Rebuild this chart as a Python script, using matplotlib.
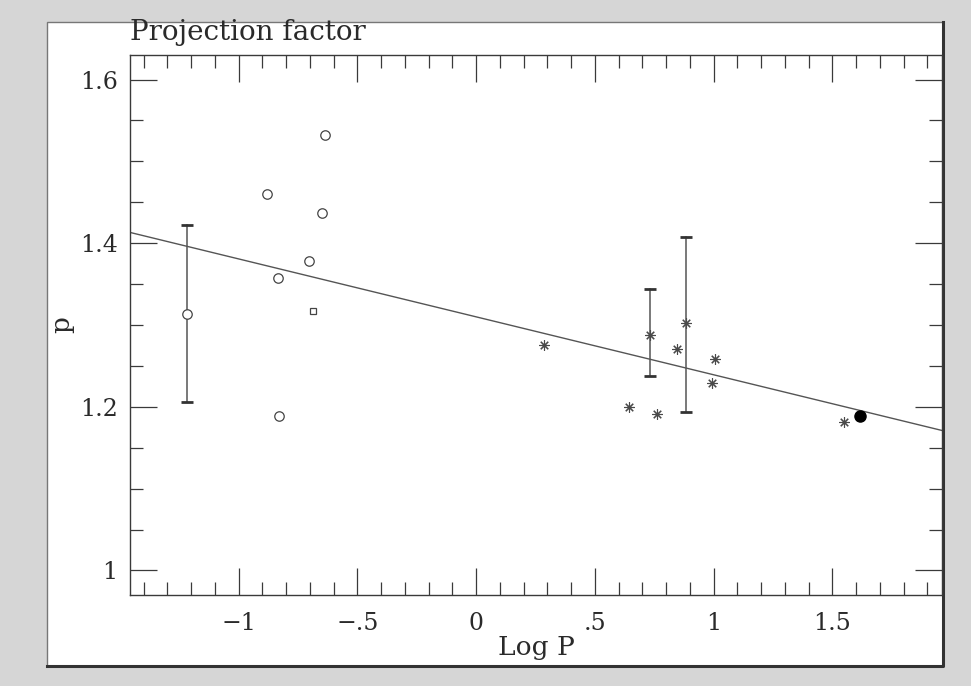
import matplotlib
matplotlib.use("Agg")
import matplotlib.pyplot as plt
from matplotlib.patches import Rectangle
from matplotlib.ticker import MultipleLocator, FixedLocator

# open circles (one with an error bar)
circ_logp = [-1.216, -0.882, -0.637, -0.650, -0.705, -0.835, -0.830]
circ_p = [1.314, 1.460, 1.532, 1.437, 1.378, 1.358, 1.189]

# open square
sq_logp = [-0.685]
sq_p = [1.317]

# asterisks
star_logp = [0.288, 0.732, 0.883, 0.845, 1.008, 0.993, 0.646, 0.761, 1.550]
star_p = [1.276, 1.288, 1.303, 1.271, 1.258, 1.229, 1.200, 1.191, 1.182]

# filled circle
dot_logp = [1.618]
dot_p = [1.189]

# error bars: x, lower, upper
err_logp = [-1.216, 0.732, 0.883]
err_lo = [1.2065, 1.2374, 1.1935]
err_hi = [1.4225, 1.3442, 1.4080]

# fitted relation p = a + b log P
fit_a = 1.310
fit_b = -0.0708

xticks = [-1, -0.5, 0, 0.5, 1, 1.5]
xlabels = ["\u22121", "\u2212.5", "0", ".5", "1", "1.5"]
yticks = [1.0, 1.2, 1.4, 1.6]
ylabels = ["1", "1.2", "1.4", "1.6"]

plt.rcParams["font.family"] = ["DejaVu Serif"]
ink = "#3a3a3a"
txt = "#2a2a2a"

fig = plt.figure(figsize=(9.71, 6.86), dpi=100)
fig.patch.set_facecolor("#d6d6d6")

# white panel behind the axes
fig.patches.append(Rectangle((47 / 971, 20 / 686), 896 / 971, 644 / 686,
                             transform=fig.transFigure, facecolor="white",
                             edgecolor="#777777", linewidth=1.0, zorder=-10))
fig.lines.append(plt.Line2D([943 / 971, 943 / 971, 47 / 971],
                            [664 / 686, 20 / 686, 20 / 686],
                            transform=fig.transFigure, color="#333333",
                            linewidth=2.2, zorder=-5))

ax = fig.add_axes([130 / 971, 91 / 686, 812 / 971, 540 / 686])
ax.set_zorder(2)
ax.set_xlim(-1.457, 1.962)
ax.set_ylim(0.970, 1.630)

# fit line
xs = [-1.457, 1.962]
ax.plot(xs, [fit_a + fit_b * x for x in xs], color="#555555", linewidth=1.0)

# error bars
for x, lo, hi in zip(err_logp, err_lo, err_hi):
    ax.plot([x, x], [lo, hi], color="#555555", linewidth=1.1)
    for yy in (lo, hi):
        ax.plot([x], [yy], marker="_", markersize=9, markeredgewidth=2.0,
                color="#333333")

ax.plot(circ_logp, circ_p, linestyle="none", marker="o", markersize=6.8,
        markerfacecolor="white", markeredgecolor="#444444", markeredgewidth=0.9)
ax.plot(sq_logp, sq_p, linestyle="none", marker="s", markersize=4.5,
        markerfacecolor="white", markeredgecolor="#444444", markeredgewidth=0.9)
ax.plot(star_logp, star_p, linestyle="none", marker=(8, 2, 0), markersize=7.5,
        color="#4a4a4a", markeredgewidth=0.8)
ax.plot(dot_logp, dot_p, linestyle="none", marker="o", markersize=8,
        color="black")

ax.xaxis.set_major_locator(FixedLocator(xticks))
ax.set_xticklabels(xlabels)
ax.xaxis.set_minor_locator(MultipleLocator(0.1))
ax.yaxis.set_major_locator(FixedLocator(yticks))
ax.set_yticklabels(ylabels)
ax.yaxis.set_minor_locator(MultipleLocator(0.05))

ax.tick_params(which="both", direction="in", top=True, right=True,
               color=ink, width=0.9, labelsize=17, labelcolor=txt)
ax.tick_params(which="major", length=19.5)
ax.tick_params(which="minor", length=9.5)
ax.tick_params(axis="x", which="major", pad=12)
ax.tick_params(axis="y", which="major", pad=9)
for s in ax.spines.values():
    s.set_color(ink)
    s.set_linewidth(1.0)

ax.set_xlabel("Log P", fontsize=19, color=txt, labelpad=0)
ax.set_ylabel("p", fontsize=19, color=txt, labelpad=4)
fig.text(130 / 971, 1 - 33 / 686, "Projection factor", fontsize=20,
         color=txt, ha="left", va="center")

fig.savefig("out.png", dpi=100, facecolor=fig.get_facecolor())
